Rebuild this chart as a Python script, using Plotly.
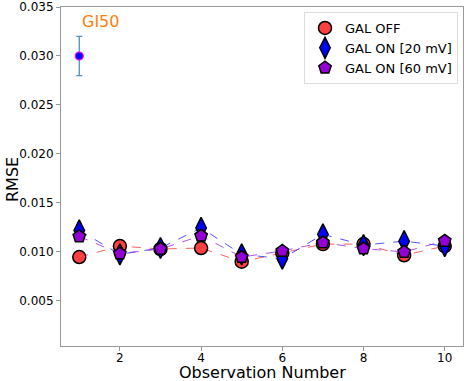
import plotly.graph_objects as go

obs = [1, 2, 3, 4, 5, 6, 7, 8, 9, 10]
gal_off = [0.00948, 0.0106, 0.0103, 0.0104, 0.0090, 0.0099, 0.0108, 0.0108, 0.00966, 0.0106]
gal_on_20 = [0.0122, 0.00976, 0.0104, 0.01245, 0.00976, 0.00931, 0.0118, 0.0107, 0.0111, 0.0106]
gal_on_60 = [0.01158, 0.00983, 0.0103, 0.01165, 0.00948, 0.0101, 0.01096, 0.01034, 0.0100, 0.01113]
gi50_x = [1]
gi50_y = [0.030]
gi50_err = [0.002]
y_ticks = [0.005, 0.010, 0.015, 0.020, 0.025, 0.030, 0.035]
x_ticks = [2, 4, 6, 8, 10]

FONT = "DejaVu Sans"
W, H = 471, 381
ML, MR, MT, MB = 61, 8, 7, 35
PW, PH = W - ML - MR, H - MT - MB

fig = go.Figure()

fig.add_trace(go.Scatter(
    x=gi50_x, y=gi50_y, mode="markers", showlegend=False,
    error_y=dict(type="data", array=gi50_err, color="#4f8fc0", thickness=1.3, width=3),
    marker=dict(symbol="circle", size=8, color="blue", line=dict(color="magenta", width=1.2)),
))

series = [
    ("GAL OFF", gal_off, "circle", "#ff4040", "rgba(255,60,60,0.8)", 13),
    ("GAL ON [20 mV]", gal_on_20, "diamond-tall", "blue", "rgba(40,40,255,0.8)", 15),
    ("GAL ON [60 mV]", gal_on_60, "pentagon", "darkviolet", "rgba(160,40,230,0.8)", 13),
]
for name, vals, sym, col, lcol, sz in series:
    fig.add_trace(go.Scatter(
        x=obs, y=vals, mode="lines+markers", name=name, showlegend=False,
        line=dict(color=lcol, width=1, dash="dash"),
        marker=dict(symbol=sym, size=sz, color=col, line=dict(color="black", width=1.5)),
    ))
for name, vals, sym, col, lcol, sz in series:
    fig.add_trace(go.Scatter(
        x=[None], y=[None], mode="markers", name=name, showlegend=True,
        marker=dict(symbol=sym, size=sz, color=col, line=dict(color="black", width=1.5)),
    ))

fig.add_annotation(x=(80 - ML) / PW, y=(H - MB - 21) / PH, xref="paper", yref="paper", text="GI50",
                   showarrow=False, xanchor="left", yanchor="middle",
                   font=dict(family=FONT, size=16, color="#ff7f0e"))
fig.add_annotation(x=0.5, y=-(373 - (H - MB)) / PH, xref="paper", yref="paper",
                   text="Observation Number", showarrow=False, xanchor="center", yanchor="middle",
                   font=dict(family=FONT, size=16, color="black"))
fig.add_annotation(x=(12 - ML) / PW, y=(H - MB - 180) / PH, xref="paper", yref="paper",
                   text="RMSE", showarrow=False, xanchor="center", yanchor="middle", textangle=-90,
                   font=dict(family=FONT, size=16, color="black"))

axis_common = dict(showline=True, linecolor="#999999", linewidth=1, mirror=True, automargin=False,
                   showgrid=False, zeroline=False, ticks="outside", ticklen=4,
                   tickcolor="#999999", tickfont=dict(family=FONT, size=12, color="black"))

fig.update_layout(
    width=W, height=H,
    margin=dict(l=ML, r=MR, t=MT, b=MB, autoexpand=False),
    plot_bgcolor="white", paper_bgcolor="white",
    xaxis=dict(range=[0.55, 10.45], tickvals=x_ticks, ticklabelstandoff=-3, **axis_common),
    yaxis=dict(range=[0.0004, 0.035], tickvals=y_ticks, tickformat=".3f", **axis_common),
    legend=dict(x=(458 - ML) / PW, y=(H - MB - 12) / PH, xanchor="right", yanchor="top",
                bgcolor="rgba(255,255,255,0.8)", bordercolor="#dddddd", borderwidth=1,
                font=dict(family=FONT, size=13, color="black"), itemwidth=30, tracegroupgap=0),
)

fig.write_html("out.html", config={"displayModeBar": False},
               post_script="document.body.style.margin='0';document.body.style.overflow='hidden';")
